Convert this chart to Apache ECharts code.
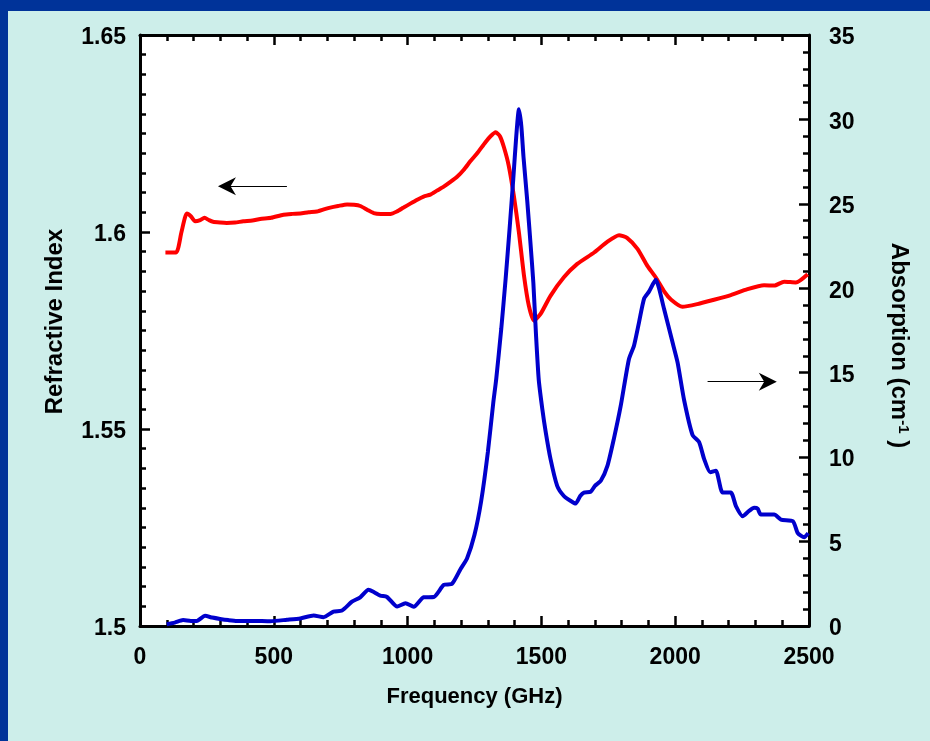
<!DOCTYPE html>
<html>
<head>
<meta charset="utf-8">
<script src="https://cdn.jsdelivr.net/npm/echarts@6/dist/echarts.min.js"></script>
<style>
  html, body { margin: 0; padding: 0; }
  #frame {
    position: relative; width: 930px; height: 741px; box-sizing: border-box;
    background: #cdeeea; border-top: 11px solid #003399; border-left: 8px solid #003399;
  }
  #chart { position: absolute; left: -8px; top: -11px; width: 930px; height: 741px; }
</style>
</head>
<body>
<div id="frame"><div id="chart"></div></div>
<script>
// Refractive index (left axis)
const indexFreq = [95, 135, 155, 175, 190, 206, 225, 241, 258, 273, 300, 324, 355, 386, 420, 449, 490, 536, 570, 599,
  630, 661, 690, 711, 740, 774, 800, 823, 850, 873, 900, 936, 960, 985, 1010, 1036, 1060, 1085, 1110, 1135,
  1160, 1185, 1210, 1235, 1260, 1291, 1310, 1329, 1345, 1360, 1378, 1397, 1416, 1435, 1453, 1472, 1497, 1534,
  1584, 1634, 1697, 1746, 1790, 1820, 1859, 1896, 1927, 1960, 1985, 2027, 2083, 2145, 2208, 2270, 2332, 2370,
  2407, 2451, 2495];
const indexValues = [1.5948, 1.5948, 1.6000, 1.6047, 1.6040, 1.6027, 1.6030, 1.6036, 1.6030, 1.6026, 1.6024, 1.6023,
  1.6024, 1.6027, 1.6029, 1.6033, 1.6036, 1.6044, 1.6046, 1.6047, 1.6050, 1.6052, 1.6058, 1.6062, 1.6066, 1.6070,
  1.6069, 1.6066, 1.6056, 1.6048, 1.6046, 1.6046, 1.6052, 1.6062, 1.6072, 1.6082, 1.6090, 1.6095, 1.6105, 1.6115,
  1.6127, 1.6140, 1.6158, 1.6180, 1.6200, 1.6228, 1.6243, 1.6253, 1.6243, 1.6215, 1.6168, 1.6092, 1.5999, 1.5889,
  1.5813, 1.5775, 1.5792, 1.5838, 1.5885, 1.5919, 1.5948, 1.5975, 1.5992, 1.5985, 1.5957, 1.5914, 1.5885, 1.5848,
  1.5828, 1.5810, 1.5817, 1.5828, 1.5840, 1.5855, 1.5865, 1.5864, 1.5874, 1.5872, 1.5893];

// Absorption in cm^-1 (right axis)
const absFreq = [100, 130, 161, 190, 212, 243, 270, 299, 330, 362, 424, 487, 549, 599, 649, 686, 723, 755, 792, 823,
  854, 875, 898, 923, 961, 992, 1023, 1060, 1098, 1135, 1166, 1198, 1222, 1250, 1275, 1300, 1320, 1331, 1350, 1366,
  1381, 1395, 1406, 1416, 1425, 1433, 1447, 1460, 1470, 1480, 1490, 1503, 1516, 1534, 1559, 1584, 1610, 1628, 1645,
  1659, 1684, 1700, 1722, 1747, 1771, 1796, 1827, 1846, 1865, 1884, 1902, 1927, 1958, 1990, 2009, 2033, 2065, 2089,
  2108, 2131, 2152, 2177, 2208, 2227, 2252, 2275, 2295, 2308, 2320, 2370, 2395, 2440, 2458, 2482, 2497];
const absValues = [0.1, 0.2, 0.35, 0.3, 0.3, 0.6, 0.5, 0.42, 0.35, 0.3, 0.3, 0.28, 0.37, 0.45, 0.62, 0.52, 0.85, 0.92,
  1.44, 1.7, 2.15, 2.0, 1.8, 1.72, 1.15, 1.35, 1.14, 1.7, 1.72, 2.43, 2.5, 3.38, 4.0, 5.4, 7.4, 10.3, 13.2, 14.6, 17.6,
  20.5, 23.5, 26.5, 29.0, 30.6, 29.6, 27.8, 25.2, 22.5, 20.3, 17.2, 14.6, 12.9, 11.5, 9.9, 8.3, 7.7, 7.4, 7.25, 7.7,
  7.9, 7.95, 8.3, 8.6, 9.5, 11.1, 13.0, 15.8, 16.6, 18.0, 19.4, 19.8, 20.5, 18.8, 16.8, 15.6, 13.4, 11.3, 10.9, 9.9,
  9.1, 9.2, 7.9, 7.9, 7.1, 6.5, 6.8, 7.0, 6.95, 6.6, 6.6, 6.3, 6.2, 5.5, 5.25, 5.5];

// Arrows telling which axis each curve belongs to (end point = centre of the head)
const indexArrow = { from: [549, 1.6116], to: [325, 1.6116] };
const absArrow = { from: [2121, 14.47], to: [2346, 14.47] };

const FONT = '"Liberation Sans", Arial, sans-serif';
const labelStyle = { color: '#000', fontFamily: FONT, fontWeight: 'bold', fontSize: 23, formatter: v => String(v) };
const yLabelStyle = Object.assign({ verticalAlign: 'top', lineHeight: 6 }, labelStyle);
const nameStyle = { color: '#000', fontFamily: FONT, fontWeight: 'bold', fontSize: 22 };
const yNameStyle = Object.assign({}, nameStyle, { fontSize: 24 });
const tickBase = {
  axisLine: { show: true, onZero: false, lineStyle: { color: '#000', width: 3 } },
  axisTick: { show: true, inside: true, length: 10, lineStyle: { color: '#000', width: 2.5 } },
  splitLine: { show: false }
};
// notched arrow head
const ARROW_HEAD = 'path://M0,0 L7,20 L0,14 L-7,20 Z';

const chart = echarts.init(document.getElementById('chart'));
chart.setOption({
  animation: false,
  grid: { left: 140, right: 121, top: 35, bottom: 115, show: true, backgroundColor: '#ffffff', borderWidth: 0 },
  xAxis: [
    Object.assign({
      type: 'value', position: 'bottom', min: 0, max: 2500, interval: 500,
      minorTick: { show: true, splitNumber: 5, length: 6, lineStyle: { color: '#000', width: 2.5 } },
      axisLabel: Object.assign({ margin: 20 }, labelStyle),
      name: 'Frequency (GHz)', nameLocation: 'middle', nameGap: 60, nameTextStyle: nameStyle
    }, tickBase),
    Object.assign({
      type: 'value', position: 'top', min: 0, max: 2500, interval: 500,
      minorTick: { show: true, splitNumber: 5, length: 6, lineStyle: { color: '#000', width: 2.5 } },
      axisLabel: { show: false }
    }, tickBase)
  ],
  yAxis: [
    Object.assign({
      type: 'value', position: 'left', min: 1.5, max: 1.65, interval: 0.05,
      minorTick: { show: true, splitNumber: 10, length: 6, lineStyle: { color: '#000', width: 2.5 } },
      axisLabel: Object.assign({ margin: 14 }, yLabelStyle),
      name: 'Refractive Index', nameLocation: 'middle', nameGap: 73, nameRotate: 90,
      nameTextStyle: Object.assign({ padding: [0, 0, 0, 18] }, yNameStyle)
    }, tickBase),
    Object.assign({
      type: 'value', position: 'right', min: 0, max: 35, interval: 5,
      minorTick: { show: true, splitNumber: 5, length: 6, lineStyle: { color: '#000', width: 2.5 } },
      axisLabel: Object.assign({ margin: 20 }, yLabelStyle),
      name: 'Absorption (cm{sup|-1} )', nameLocation: 'middle', nameGap: 77, nameRotate: -90,
      nameTextStyle: Object.assign({
        padding: [0, 0, 0, 30],
        rich: { sup: { fontFamily: FONT, fontWeight: 'bold', fontSize: 15, color: '#000', verticalAlign: 'top', padding: [0, 0, 10, 0] } }
      }, yNameStyle)
    }, tickBase)
  ],
  series: [
    {
      name: 'Refractive Index', type: 'line', xAxisIndex: 0, yAxisIndex: 0,
      data: indexFreq.map((f, i) => [f, indexValues[i]]),
      showSymbol: false, smooth: 0.2, silent: true,
      lineStyle: { color: '#ff0000', width: 4 },
      markLine: {
        silent: true, symbol: ['none', ARROW_HEAD], symbolSize: 18, label: { show: false },
        lineStyle: { color: '#000', width: 1.2, type: 'solid' },
        data: [[{ coord: indexArrow.from }, { coord: indexArrow.to }]]
      }
    },
    {
      name: 'Absorption', type: 'line', xAxisIndex: 0, yAxisIndex: 1,
      data: absFreq.map((f, i) => [f, absValues[i]]),
      showSymbol: false, smooth: 0.2, silent: true,
      lineStyle: { color: '#0000cc', width: 4 },
      markLine: {
        silent: true, symbol: ['none', ARROW_HEAD], symbolSize: 18, label: { show: false },
        lineStyle: { color: '#000', width: 1.2, type: 'solid' },
        data: [[{ coord: absArrow.from }, { coord: absArrow.to }]]
      }
    }
  ]
});
</script>
</body>
</html>
